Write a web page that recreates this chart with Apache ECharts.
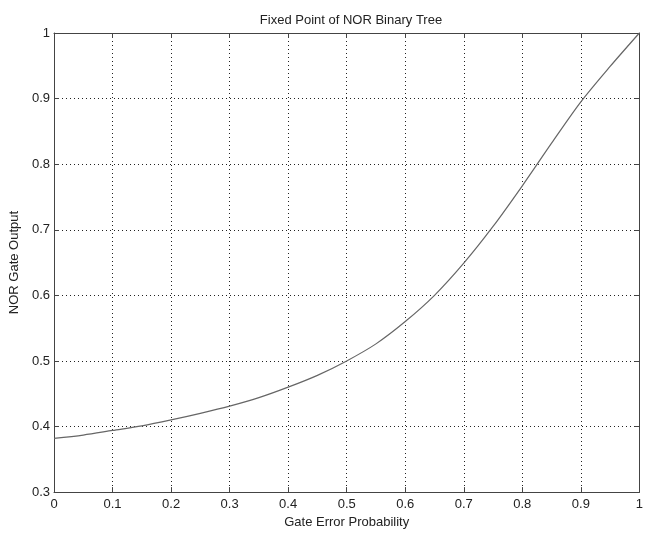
<!DOCTYPE html>
<html>
<head>
<meta charset="utf-8">
<script src="https://cdn.jsdelivr.net/npm/echarts@6/dist/echarts.min.js"></script>
<style>
  html, body { margin: 0; padding: 0; background: #fff; }
  #chart { width: 646px; height: 534px; }
</style>
</head>
<body>
<div id="chart"></div>
<script>
// Gate error probability (x) and the NOR gate fixed-point output (y)
const errorProb = [0, 0.05, 0.1, 0.15, 0.2, 0.25, 0.3, 0.35, 0.4, 0.45, 0.5,
                   0.55, 0.6, 0.65, 0.7, 0.75, 0.8, 0.85, 0.9, 0.95, 1.0];
const norOutput = [0.382, 0.387, 0.394, 0.401, 0.410, 0.420, 0.431, 0.444, 0.460, 0.478, 0.500,
                   0.526, 0.560, 0.600, 0.649, 0.705, 0.767, 0.832, 0.895, 0.949, 1.0];

const titleText = 'Fixed Point of NOR Binary Tree';
const xTitle = 'Gate Error Probability';
const yTitle = 'NOR Gate Output';

const FONT = '"Liberation Sans", Arial, sans-serif';
const TEXT = '#222';
const AXIS = '#444';
const fmt = v => String(parseFloat(v.toFixed(1)));

const grid = { left: 50, right: 3, top: 33, bottom: 35 };

const gridLine = { show: true, lineStyle: { color: '#222', type: [1, 3], width: 1 } };

const chart = echarts.init(document.getElementById('chart'), null, { renderer: 'canvas' });
chart.setOption({
  animation: false,
  backgroundColor: '#fff',
  title: {
    text: titleText,
    left: 346, top: 9, textAlign: 'center',
    textStyle: { fontFamily: FONT, fontSize: 13, fontWeight: 'normal', color: TEXT }
  },
  grid: grid,
  xAxis: [{
    type: 'value', min: 0, max: 1, interval: 0.1,
    name: xTitle, nameLocation: 'middle', nameGap: 23,
    nameTextStyle: { fontFamily: FONT, fontSize: 13, color: TEXT },
    axisLine: { show: true, onZero: false, lineStyle: { color: AXIS, width: 1 } },
    axisTick: { show: true, inside: true, length: 5, lineStyle: { color: AXIS } },
    axisLabel: { margin: 6, fontFamily: FONT, fontSize: 13, color: TEXT, formatter: fmt },
    splitLine: gridLine
  }, {
    type: 'value', min: 0, max: 1, interval: 0.1, position: 'top',
    axisLine: { show: true, onZero: false, lineStyle: { color: AXIS, width: 1 } },
    axisTick: { show: true, inside: true, length: 5, lineStyle: { color: AXIS } },
    axisLabel: { show: false }, splitLine: { show: false }
  }],
  yAxis: [{
    type: 'value', min: 0.3, max: 1, interval: 0.1,
    name: yTitle, nameLocation: 'middle', nameGap: 33, nameRotate: 90,
    nameTextStyle: { fontFamily: FONT, fontSize: 13, color: TEXT },
    axisLine: { show: true, onZero: false, lineStyle: { color: AXIS, width: 1 } },
    axisTick: { show: true, inside: true, length: 5, lineStyle: { color: AXIS } },
    axisLabel: { margin: 4, fontFamily: FONT, fontSize: 13, color: TEXT, formatter: fmt },
    splitLine: gridLine
  }, {
    type: 'value', min: 0.3, max: 1, interval: 0.1, position: 'right',
    axisLine: { show: true, onZero: false, lineStyle: { color: AXIS, width: 1 } },
    axisTick: { show: true, inside: true, length: 5, lineStyle: { color: AXIS } },
    axisLabel: { show: false }, splitLine: { show: false }
  }],
  series: [{
    type: 'line',
    xAxisIndex: 0, yAxisIndex: 0,
    data: errorProb.map((x, i) => [x, norOutput[i]]),
    smooth: 0.3,
    showSymbol: false,
    lineStyle: { color: '#666', width: 1.2 }
  }]
});
</script>
</body>
</html>
